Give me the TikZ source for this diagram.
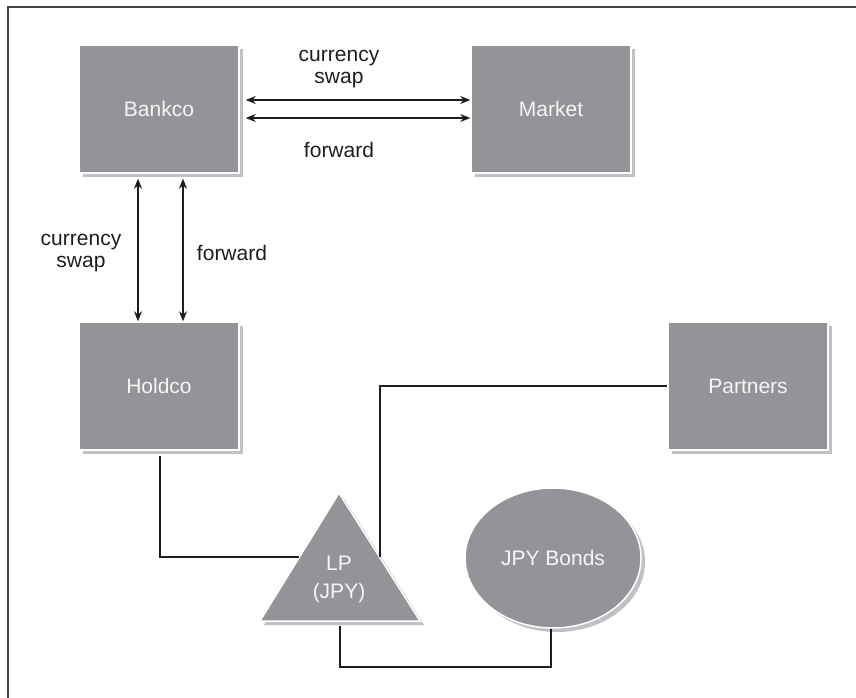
\documentclass[tikz,border=0pt]{standalone}
\usepackage{fontspec}
\setmainfont{Liberation Sans}
\usetikzlibrary{arrows.meta,shadows,shapes.geometric}
\definecolor{boxgray}{RGB}{147,148,152}
\definecolor{shadegray}{RGB}{192,192,197}
\definecolor{txtwhite}{RGB}{246,246,246}
\definecolor{linecol}{RGB}{30,30,30}
\definecolor{framecol}{RGB}{70,70,70}
\begin{document}
\begin{tikzpicture}[x=1bp,y=-1bp,
  shad/.style={drop shadow={shadow xshift=4bp,shadow yshift=-4bp,fill=shadegray,opacity=1}},
  boxsty/.style={shape=rectangle,fill=boxgray,draw=white,line width=1.5bp,shad,
     minimum width=160bp,minimum height=128bp,text=txtwhite,inner sep=0pt,
     font=\fontsize{21bp}{23bp}\selectfont},
  lbl/.style={align=center,text=linecol,inner sep=0pt,font=\fontsize{21bp}{22bp}\selectfont},
  arr/.style={draw=linecol,line width=1.3bp,{Stealth[length=10bp,width=8bp]}-{Stealth[length=10bp,width=8bp]}},
  conn/.style={draw=linecol,line width=1.3bp}]
\useasboundingbox (0,0) rectangle (856,698);
% frame (top and left)
\draw[framecol,line width=2bp] (8,698) -- (8,7) -- (856,7);
% boxes
\node[boxsty] (bankco) at (159,109) {Bankco};
\node[boxsty] (market) at (551,109) {Market};
\node[boxsty] (holdco) at (159,386) {Holdco};
\node[boxsty] (partners) at (748,386) {Partners};
% triangle LP
\path[fill=boxgray,draw=white,line width=1.5bp,shad] (339,493) -- (420,621) -- (260,621) -- cycle;
\node[text=txtwhite,align=center,inner sep=0pt,font=\fontsize{21bp}{28bp}\selectfont] (lp) at (339,579) {LP\\(JPY)};
\coordinate (lpL) at (299,557);
\coordinate (lpR) at (380,557);
\coordinate (lpB) at (340,626);
% ellipse
\node[shape=ellipse,fill=boxgray,draw=white,line width=1.5bp,shad,minimum width=176bp,
  minimum height=140bp,inner sep=0pt,text=txtwhite,font=\fontsize{21bp}{23bp}\selectfont] (bonds) at (553,558) {JPY Bonds};
% horizontal arrows
\draw[arr,shorten <=6bp] (bankco.east |- 0,100) -- (market.west |- 0,100);
\draw[arr,shorten <=6bp] (bankco.east |- 0,118) -- (market.west |- 0,118);
\node[lbl] (cs1) at (339,69) {currency\\swap};
\node[lbl] (fw1) at (339,150) {forward};
% vertical arrows
\draw[arr,shorten <=5bp] (bankco.south -| 138,0) -- (holdco.north -| 138,0);
\draw[arr,shorten <=5bp] (bankco.south -| 183,0) -- (holdco.north -| 183,0);
\node[lbl] (cs2) at (81,253) {currency\\swap};
\node[lbl] (fw2) at (232,253) {forward};
% connectors
\draw[conn,shorten <=5bp] (holdco.south -| 160,0) |- (lpL);
\draw[conn] (lpR) |- (partners.west |- 0,386);
\draw[conn] (lpB) |- (551,667) coordinate (bb) -- (bb |- bonds.south);
\end{tikzpicture}
\end{document}
